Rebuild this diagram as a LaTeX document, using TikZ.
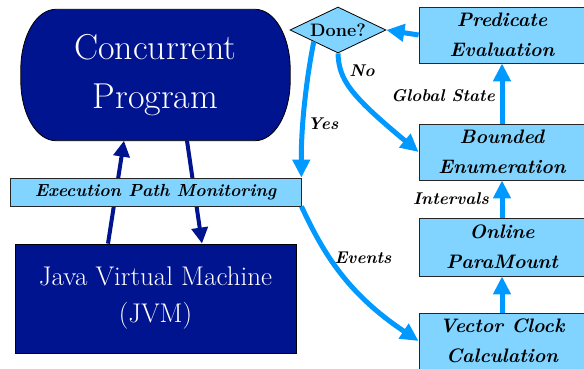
\documentclass[tikz,border=0pt]{standalone}
\usepackage{fontspec}
\usetikzlibrary{shapes.geometric,arrows.meta,backgrounds,calc}
\definecolor{navy}{RGB}{0,20,143}
\definecolor{lfill}{RGB}{128,212,255}
\definecolor{arrblue}{RGB}{0,153,255}
\begin{document}
\begin{tikzpicture}[x=1pt,y=-1pt,
  darkbox/.style={fill=navy,draw=black,line width=0.8pt,text=white,align=center,inner sep=0pt},
  lbox/.style={fill=lfill,draw=black!85,line width=0.8pt,align=center,inner sep=0pt,font=\fontsize{19.5}{30}\selectfont\bfseries\itshape},
  lab/.style={font=\fontsize{17}{21}\selectfont\bfseries\itshape,inner sep=0pt},
  navyarr/.style={draw=navy,line width=4pt,-{Triangle[length=16pt,width=16pt]}},
  bluearr/.style={draw=arrblue,line width=5pt,-{Triangle[length=18pt,width=17pt]}},
]
\useasboundingbox (0,0) rectangle (584,369);

% Concurrent Program (elliptic-ended box)
\node[text=white,align=center,inner sep=0pt,minimum width=269pt,minimum height=131pt,
      font=\fontsize{36}{49}\selectfont] (cp) at (155.5,75) {\raisebox{-4pt}{\parbox{260pt}{\centering Concurrent\\Program}}};
\begin{scope}[on background layer]
\draw[fill=navy,draw=black,line width=0.8pt]
  ([xshift=35pt]cp.north west) -- ([xshift=-35pt]cp.north east)
  arc[start angle=90,end angle=0,x radius=35pt,y radius=60pt]
  -- ([yshift=60pt]cp.south east)
  arc[start angle=0,end angle=-90,x radius=35pt,y radius=60pt]
  -- ([xshift=35pt]cp.south west)
  arc[start angle=270,end angle=180,x radius=35pt,y radius=60pt]
  -- ([yshift=-60pt]cp.north west)
  arc[start angle=180,end angle=90,x radius=35pt,y radius=60pt]
  -- cycle;
\end{scope}

% JVM
\node[darkbox,minimum width=281pt,minimum height=109pt,font=\fontsize{27}{37}\selectfont]
  (jvm) at (155.5,298.5) {\raisebox{-3pt}{\parbox{270pt}{\centering Java Virtual Machine\\(JVM)}}};

% navy arrows
\draw[navyarr] ([xshift=-47.5pt]jvm.north) -- ([xshift=-31.5pt]cp.south);
\draw[navyarr] ([xshift=31.5pt]cp.south) -- ([xshift=46.5pt]jvm.north);

% Execution path monitoring bar
\node[lbox,minimum width=291pt,minimum height=28pt,font=\fontsize{17.5}{21}\selectfont\bfseries\itshape]
  (epm) at (155.5,192) {Execution Path Monitoring};

% Done? diamond
\node[diamond,fill=lfill,draw=black,line width=0.8pt,inner sep=0pt,minimum width=96pt,minimum height=46pt] (dn) at (338,30) {};
\node[font=\fontsize{18}{21}\selectfont\bfseries,inner sep=0pt] (dntext) at (dn.center) {Done?};

% right column boxes
\node[lbox,minimum width=166pt,minimum height=56pt] (pred) at (502,35) {Predicate\\Evaluation};
\node[lbox,minimum width=166pt,minimum height=56pt] (bnd) at (502,152) {Bounded\\Enumeration};
\node[lbox,minimum width=166pt,minimum height=58pt] (onl) at (502,247) {Online\\ParaMount};
\node[lbox,minimum width=166pt,minimum height=56pt] (vec) at (502,341) {Vector Clock\\Calculation};

% blue arrows
\draw[bluearr] (pred.west) -- (dn.east);
\draw[bluearr] (bnd.north) -- (pred.south);
\draw[bluearr] (onl.north) -- (bnd.south);
\draw[bluearr] (vec.north) -- (onl.south);
\draw[bluearr] (dn.south west) .. controls (308,70) and (301,120) .. (epm.north east);
\draw[bluearr] (dn.south) .. controls (339,80) and (350,95) .. (bnd.west);
\draw[bluearr] (epm.south east) .. controls (322,250) and (345,292) .. (vec.west);

% labels
\node[lab] (yes) at (323,124) {Yes};
\node[lab] (no) at (362,71) {No};
\node[lab,anchor=east] (gs) at (495,96) {Global State};
\node[lab,anchor=east] (iv) at (489,199) {Intervals};
\node[lab] (ev) at (363,258) {Events};
\end{tikzpicture}
\end{document}
